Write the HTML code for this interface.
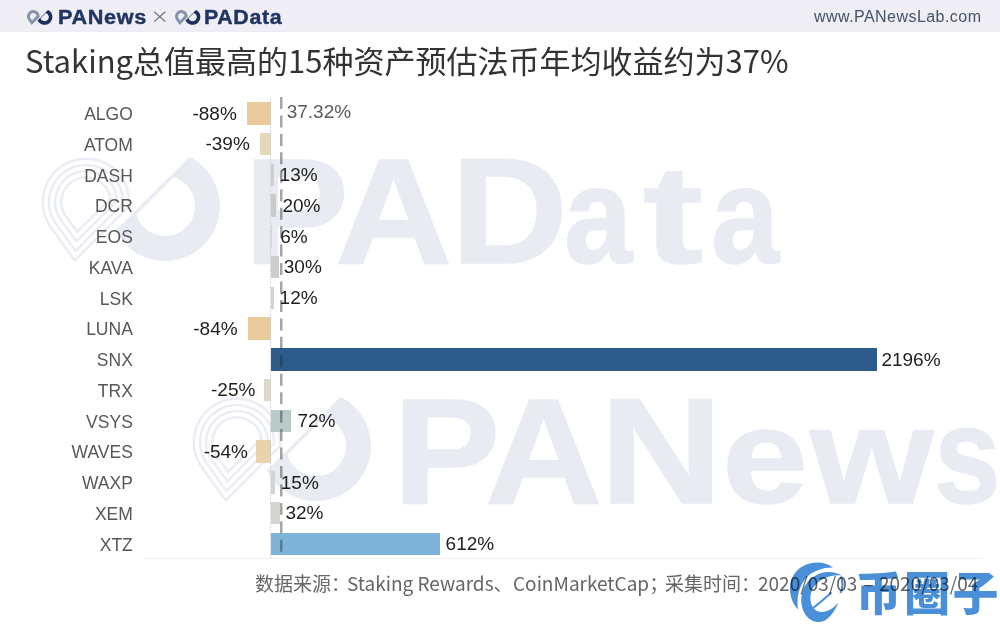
<!DOCTYPE html>
<html><head><meta charset="utf-8">
<style>
*{margin:0;padding:0;box-sizing:border-box}
html,body{width:1000px;height:626px;overflow:hidden;background:#fff}
body{position:relative;font-family:"Liberation Sans","Noto Sans CJK SC",sans-serif}
.abs{position:absolute;white-space:nowrap}
#hdr{position:absolute;left:0;top:0;width:1000px;height:32px;background:#efeef4;border-bottom:1px solid #ececf0}
.brand{position:absolute;top:6px;font-weight:bold;font-size:19.5px;line-height:22px;color:#1f3463;letter-spacing:0.6px;transform-origin:0 0;-webkit-text-stroke:0.4px #1f3463}
#url{position:absolute;left:814px;top:6.5px;font-size:16px;letter-spacing:0.45px;line-height:20px;color:#465266}
#title{position:absolute;left:25px;top:39.7px;font-family:"Noto Sans CJK SC",sans-serif;font-size:31px;line-height:40px;color:#333}
.wm{position:absolute;font-family:"Liberation Sans",sans-serif;font-weight:bold;font-size:153px;line-height:153px;color:#e8ecf2;-webkit-text-stroke:1.6px #e8ecf2;transform-origin:0 130px}
.cat{position:absolute;font-size:17.5px;line-height:20px;color:#575757;text-align:right}
.val{position:absolute;font-size:19px;line-height:20px;color:#1e1e1e}
.bar{position:absolute;height:22.6px}
#src{position:absolute;left:0;top:572px;font-family:"Noto Sans CJK SC",sans-serif;font-size:19px;line-height:22px;color:#666}
#src span{position:absolute;top:0;white-space:nowrap}
</style></head>
<body>
<div id="hdr"></div>
<!-- header logos -->
<!--hl1--><svg class="abs" style="left:26px;top:8.5px" width="30" height="18" viewBox="0 0 30 18"><g transform="translate(-4.89,-21.29) scale(0.142)"><path d="M130.25 206.75A44.50 44.50 0 1 0 49.86 227.97L74.60 262.40ZM109.18 198.12A23.50 23.50 0 1 0 66.92 215.71L77.23 230.07Z" fill="#8693ab" fill-rule="evenodd"/><path d="M189.53 156.77A55 55 0 1 1 115.77 230.53ZM173.71 177.29A30 30 0 1 1 136.29 214.71Z" fill="#1d2d5e" fill-rule="evenodd"/></g></svg><!--/hl1-->
<div class="brand" style="left:57.8px;transform:scaleX(1.11)">PANews</div>
<svg class="abs" style="left:153px;top:11px" width="14" height="12" viewBox="0 0 14 12"><path d="M1.2 0.8L12.3 10.6M12.3 0.8L1.2 10.6" stroke="#6b7080" stroke-width="1.2" fill="none"/></svg>
<!--hl2--><svg class="abs" style="left:174px;top:8.5px" width="30" height="18" viewBox="0 0 30 18"><g transform="translate(-4.89,-21.29) scale(0.142)"><path d="M130.25 206.75A44.50 44.50 0 1 0 49.86 227.97L74.60 262.40ZM109.18 198.12A23.50 23.50 0 1 0 66.92 215.71L77.23 230.07Z" fill="#8693ab" fill-rule="evenodd"/><path d="M189.53 156.77A55 55 0 1 1 115.77 230.53ZM173.71 177.29A30 30 0 1 1 136.29 214.71Z" fill="#1d2d5e" fill-rule="evenodd"/></g></svg><!--/hl2-->
<div class="brand" style="left:203.8px;transform:scaleX(1.094)">PAData</div>
<div id="url">www.PANewsLab.com</div>

<div id="title">Staking总值最高的15种资产预估法币年均收益约为37%</div>

<!--logo--><svg class="abs" style="left:0;top:0" width="1000" height="626" viewBox="0 0 1000 626"><g transform="translate(0,0)"><path d="M189.53 156.77A55 55 0 1 1 115.77 230.53ZM173.71 177.29A30 30 0 1 1 136.29 214.71Z" fill="#e8ecf2" fill-rule="evenodd"/><path d="M129.05 206.19A43.25 43.25 0 1 0 50.88 227.24L74.76 260.47ZM123.02 203.44A37.05 37.05 0 1 0 55.91 223.62L75.54 250.93ZM116.83 200.87A30.85 30.85 0 1 0 60.95 220.00L76.31 241.38ZM110.40 198.52A24.65 24.65 0 1 0 65.98 216.38L77.09 231.84Z" fill="none" stroke="#eaedf3" stroke-width="2.5" stroke-linejoin="round"/></g></svg><svg class="abs" style="left:0;top:0" width="1000" height="626" viewBox="0 0 1000 626"><g transform="translate(151,240)"><path d="M189.53 156.77A55 55 0 1 1 115.77 230.53ZM173.71 177.29A30 30 0 1 1 136.29 214.71Z" fill="#e8ecf2" fill-rule="evenodd"/><path d="M129.05 206.19A43.25 43.25 0 1 0 50.88 227.24L74.76 260.47ZM123.02 203.44A37.05 37.05 0 1 0 55.91 223.62L75.54 250.93ZM116.83 200.87A30.85 30.85 0 1 0 60.95 220.00L76.31 241.38ZM110.40 198.52A24.65 24.65 0 1 0 65.98 216.38L77.09 231.84Z" fill="none" stroke="#eaedf3" stroke-width="2.5" stroke-linejoin="round"/></g></svg><!--/logo-->
<div id="wm">
<div class="wm" style="left:244.0px;top:133.0px;transform:scale(1.025,0.986)">P</div>
<div class="wm" style="left:335.2px;top:133.0px;transform:scale(1.062,0.986)">A</div>
<div class="wm" style="left:451.0px;top:133.0px;transform:scale(1.057,0.986)">D</div>
<div class="wm" style="left:564.1px;top:133.2px;transform:scale(0.801,0.896)">a</div>
<div class="wm" style="left:643.1px;top:133.2px;transform:scale(1.178,0.913)">t</div>
<div class="wm" style="left:711.1px;top:133.2px;transform:scale(0.801,0.896)">a</div>
<div class="wm" style="left:392.5px;top:372.8px;transform:scale(1.052,0.987)">P</div>
<div class="wm" style="left:485.2px;top:372.8px;transform:scale(1.062,0.987)">A</div>
<div class="wm" style="left:599.6px;top:372.8px;transform:scale(1.109,0.987)">N</div>
<div class="wm" style="left:722.1px;top:373.2px;transform:scale(1.011,0.889)">e</div>
<div class="wm" style="left:809.9px;top:372.9px;transform:scale(1.041,0.900)">w</div>
<div class="wm" style="left:934.1px;top:373.2px;transform:scale(0.784,0.895)">s</div>
</div><!--/wm-->

<!-- chart -->
<div id="bl" class="abs" style="left:143px;top:557.5px;width:839px;height:1px;background:#f1f1f1"></div>
<div id="chart">
<div class="bar" style="left:246.5px;top:102.0px;width:24.3px;background:#e9ca9b"></div>
<div class="bar" style="left:260.0px;top:132.8px;width:10.8px;background:#e5d8ba"></div>
<div class="bar" style="left:270.8px;top:163.5px;width:3.6px;background:#cfcfcf"></div>
<div class="bar" style="left:270.8px;top:194.3px;width:5.5px;background:#cbcbcb"></div>
<div class="bar" style="left:270.8px;top:225.0px;width:1.7px;background:#d6d6d6"></div>
<div class="bar" style="left:270.8px;top:255.8px;width:8.3px;background:#cdcdcd"></div>
<div class="bar" style="left:270.8px;top:286.6px;width:3.3px;background:#d3d3d3"></div>
<div class="bar" style="left:247.6px;top:317.3px;width:23.2px;background:#e9cb9c"></div>
<div class="bar" style="left:270.8px;top:348.1px;width:606.0px;background:#2e5c8a"></div>
<div class="bar" style="left:263.9px;top:378.8px;width:6.9px;background:#ddd8c8"></div>
<div class="bar" style="left:270.8px;top:409.6px;width:19.9px;background:#b9caca"></div>
<div class="bar" style="left:255.9px;top:440.3px;width:14.9px;background:#e9d3ad"></div>
<div class="bar" style="left:270.8px;top:471.1px;width:4.1px;background:#d3d3d3"></div>
<div class="bar" style="left:270.8px;top:501.8px;width:8.8px;background:#d4d4d1"></div>
<div class="bar" style="left:270.8px;top:532.6px;width:168.9px;background:#7eb4da"></div>
<div class="cat" style="top:104.0px;right:867.2px">ALGO</div>
<div class="val" style="right:763.2px;top:103.5px">-88%</div>
<div class="cat" style="top:134.7px;right:867.2px">ATOM</div>
<div class="val" style="right:750.2px;top:134.2px">-39%</div>
<div class="cat" style="top:165.5px;right:867.2px">DASH</div>
<div class="val" style="left:279.6px;top:165.0px">13%</div>
<div class="cat" style="top:196.2px;right:867.2px">DCR</div>
<div class="val" style="left:282.4px;top:195.7px">20%</div>
<div class="cat" style="top:227.0px;right:867.2px">EOS</div>
<div class="val" style="left:280.2px;top:226.5px">6%</div>
<div class="cat" style="top:257.7px;right:867.2px">KAVA</div>
<div class="val" style="left:283.8px;top:257.2px">30%</div>
<div class="cat" style="top:288.5px;right:867.2px">LSK</div>
<div class="val" style="left:279.6px;top:288.0px">12%</div>
<div class="cat" style="top:319.2px;right:867.2px">LUNA</div>
<div class="val" style="right:762.4px;top:318.7px">-84%</div>
<div class="cat" style="top:350.0px;right:867.2px">SNX</div>
<div class="val" style="left:881.4px;top:349.5px">2196%</div>
<div class="cat" style="top:380.7px;right:867.2px">TRX</div>
<div class="val" style="right:744.6px;top:380.2px">-25%</div>
<div class="cat" style="top:411.5px;right:867.2px">VSYS</div>
<div class="val" style="left:297.4px;top:411.0px">72%</div>
<div class="cat" style="top:442.2px;right:867.2px">WAVES</div>
<div class="val" style="right:752.0px;top:441.7px">-54%</div>
<div class="cat" style="top:473.0px;right:867.2px">WAXP</div>
<div class="val" style="left:280.8px;top:472.5px">15%</div>
<div class="cat" style="top:503.7px;right:867.2px">XEM</div>
<div class="val" style="left:285.4px;top:503.2px">32%</div>
<div class="cat" style="top:534.5px;right:867.2px">XTZ</div>
<div class="val" style="left:445.6px;top:534.0px">612%</div>
<svg class="abs" style="left:270.3px;top:97px" width="1" height="461"><line x1="0.5" y1="0" x2="0.5" y2="461" stroke="#c9cdd8" stroke-width="1" stroke-dasharray="1 1"/></svg>
<svg class="abs" style="left:280.35px;top:97px" width="2.5" height="458"><line x1="1.25" y1="0" x2="1.25" y2="458" stroke="rgba(40,40,40,0.42)" stroke-width="2.5" stroke-dasharray="12 6.45"/></svg>
<div class="val" style="left:286.7px;top:102.4px;color:#5a5a5a">37.32%</div>
</div><!--/chart-->

<div id="src"><span style="left:255px">数据来源：</span><span style="left:347px">Staking Rewards、</span><span style="left:513px">CoinMarketCap；</span><span style="left:665px">采集时间：</span><span style="left:758px">2020/03/03</span><span style="left:863.5px">–</span><span style="left:879px">2020/03/04</span></div>
<!--bqz--><svg class="abs" style="left:0;top:0;mix-blend-mode:multiply" width="1000" height="626" viewBox="0 0 1000 626">
<g fill="#4a90d8">
<path d="M833,567.5 C822,559 800,561 792,578 C788,588 790,601 798,609.5 C796,596 800,584 808,576 C815,570 825,567 833,567.5 Z"/>
<path d="M842,575.5 C830,568 810,572 803,590 C798,604 804,620 817,622 C827,623 834,613 838.5,602.5 C832,610 824,614 817,611 C810,607 809,598 812,590 C817,580 830,574 842,575.5 Z"/>
</g>
<path d="M841,576.5 C843,582 843,588 840.5,593" stroke="#4a90d8" stroke-width="2.2" fill="none"/>
<path d="M812.5,608.5 Q822,601 831.5,592.5" stroke="#4a90d8" stroke-width="2" fill="none"/>
</svg>
<div class="abs" style="left:855.5px;top:561.5px;font-family:'Noto Sans CJK SC',sans-serif;font-weight:900;font-size:46px;letter-spacing:2.5px;line-height:56px;color:#4a90d8;mix-blend-mode:multiply">币圈子</div><!--/bqz-->
</body></html>
